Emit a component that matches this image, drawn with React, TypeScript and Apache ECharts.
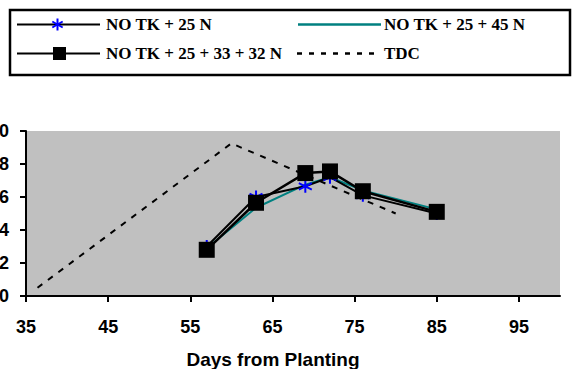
import React, { useEffect, useRef } from "react";
import * as echarts from "echarts";

const days = [57, 63, 69, 72, 76, 85];
const noTk25 = [3.0, 6.0, 6.65, 7.2, 6.1, 5.0];
const noTk2545 = [2.9, 5.35, 6.75, 7.2, 6.4, 5.25];
const noTk253332 = [2.8, 5.65, 7.45, 7.55, 6.35, 5.1];
const tdcDays = [36.4, 60, 80];
const tdcValues = [0.5, 9.25, 5.0];
const xTicks = [35, 45, 55, 65, 75, 85, 95];
const seriesNames = ["NO TK + 25 N", "NO TK + 25 + 45 N", "NO TK + 25 + 33 + 32 N", "TDC"];

const ASTERISK = "path://M0,-1L0,1M-0.866,-0.5L0.866,0.5M-0.866,0.5L0.866,-0.5";
const TEAL = "#008080";
const BLUE = "#0000FF";

function pairs(xs: number[], ys: number[]) {
  return xs.map((x, i) => [x, ys[i]]);
}

export default function App() {
  const ref = useRef<HTMLDivElement>(null);
  useEffect(() => {
    if (!ref.current) return;
    const chart = echarts.init(ref.current, undefined, { renderer: "svg" });
    const legendFont = "bold 17px 'Liberation Serif', 'Times New Roman', serif";
    const r1 = 24.5;
    const r2 = 53.5;
    const asterisk = (cx: number, cy: number, s: number) => {
      const arms = [
        [0, -s, 0, s],
        [-0.866 * s, -0.5 * s, 0.866 * s, 0.5 * s],
        [-0.866 * s, 0.5 * s, 0.866 * s, -0.5 * s],
      ];
      return arms.map((a) => ({
        type: "line",
        shape: { x1: cx + a[0], y1: cy + a[1], x2: cx + a[2], y2: cy + a[3] },
        style: { stroke: BLUE, lineWidth: 2 },
        z: 101,
      }));
    };
    chart.setOption({
      animation: false,
      backgroundColor: "#ffffff",
      grid: {
        left: 26,
        right: 12,
        top: 131,
        bottom: 73,
        show: true,
        backgroundColor: "#C0C0C0",
        borderWidth: 0,
        containLabel: false,
        outerBoundsMode: "none",
      },
      xAxis: {
        type: "value",
        min: 35,
        max: 100,
        interval: 10,
        splitLine: { show: false },
        axisLine: { show: true, onZero: false, lineStyle: { color: "#000", width: 2 } },
        axisTick: { show: true, length: 6, lineStyle: { color: "#000", width: 2 }, customValues: xTicks },
        axisLabel: {
          customValues: xTicks,
          margin: 22,
          color: "#000",
          fontFamily: "'Liberation Sans', Arial, sans-serif",
          fontWeight: "bold",
          fontSize: 18,
        },
      },
      yAxis: {
        type: "value",
        min: 0,
        max: 10,
        interval: 2,
        splitLine: { show: false },
        axisLine: { show: true, lineStyle: { color: "#000", width: 2 } },
        axisTick: { show: true, length: 6, lineStyle: { color: "#000", width: 2 } },
        axisLabel: {
          margin: 17,
          color: "#000",
          fontFamily: "'Liberation Sans', Arial, sans-serif",
          fontWeight: "bold",
          fontSize: 18,
        },
      },
      series: [
        {
          name: seriesNames[0],
          type: "line",
          data: pairs(days, noTk25),
          symbol: ASTERISK,
          symbolSize: 13,
          lineStyle: { color: "#000", width: 2 },
          itemStyle: { color: BLUE, borderColor: BLUE, borderWidth: 2 },
          z: 3,
        },
        {
          name: seriesNames[1],
          type: "line",
          data: pairs(days, noTk2545),
          symbol: "none",
          lineStyle: { color: TEAL, width: 2 },
          z: 2,
        },
        {
          name: seriesNames[2],
          type: "line",
          data: pairs(days, noTk253332),
          symbol: "rect",
          symbolSize: 16,
          lineStyle: { color: "#000", width: 2.5 },
          itemStyle: { color: "#000" },
          z: 4,
        },
        {
          name: seriesNames[3],
          type: "line",
          data: pairs(tdcDays, tdcValues),
          symbol: "none",
          lineStyle: { color: "#000", width: 2, type: [6, 7] },
          z: 1,
        },
      ],
      graphic: [
        {
          type: "rect",
          shape: { x: 10, y: 10, width: 560, height: 65 },
          style: { fill: "#fff", stroke: "#000", lineWidth: 2.5 },
          z: 100,
        },
        { type: "line", shape: { x1: 17, y1: r1, x2: 100, y2: r1 }, style: { stroke: "#000", lineWidth: 2 }, z: 101 },
        ...asterisk(57.5, r1, 6),
        { type: "text", x: 106, y: r1, style: { text: seriesNames[0], font: legendFont, fill: "#000", verticalAlign: "middle" }, z: 101 },
        { type: "line", shape: { x1: 298, y1: r1, x2: 381, y2: r1 }, style: { stroke: TEAL, lineWidth: 2.5 }, z: 101 },
        { type: "text", x: 384, y: r1, style: { text: seriesNames[1], font: legendFont, fill: "#000", verticalAlign: "middle" }, z: 101 },
        { type: "line", shape: { x1: 17, y1: r2, x2: 100, y2: r2 }, style: { stroke: "#000", lineWidth: 2 }, z: 101 },
        { type: "rect", shape: { x: 53, y: r2 - 6.5, width: 13, height: 13 }, style: { fill: "#000" }, z: 101 },
        { type: "text", x: 106, y: r2, style: { text: seriesNames[2], font: legendFont, fill: "#000", verticalAlign: "middle" }, z: 101 },
        { type: "line", shape: { x1: 297, y1: r2, x2: 381, y2: r2 }, style: { stroke: "#000", lineWidth: 2.5, lineDash: [5, 7] }, z: 101 },
        { type: "text", x: 384, y: r2, style: { text: seriesNames[3], font: legendFont, fill: "#000", verticalAlign: "middle" }, z: 101 },
        {
          type: "text",
          x: 273,
          y: 359,
          style: {
            text: "Days from Planting",
            font: "bold 19px 'Liberation Sans', Arial, sans-serif",
            fill: "#000",
            align: "center",
            verticalAlign: "middle",
          },
          z: 101,
        },
      ],
    });
    return () => chart.dispose();
  }, []);
  return (
    <div
      ref={ref}
      style={{ position: "fixed", left: 0, top: 0, width: 572, height: 369, background: "#fff" }}
    />
  );
}
